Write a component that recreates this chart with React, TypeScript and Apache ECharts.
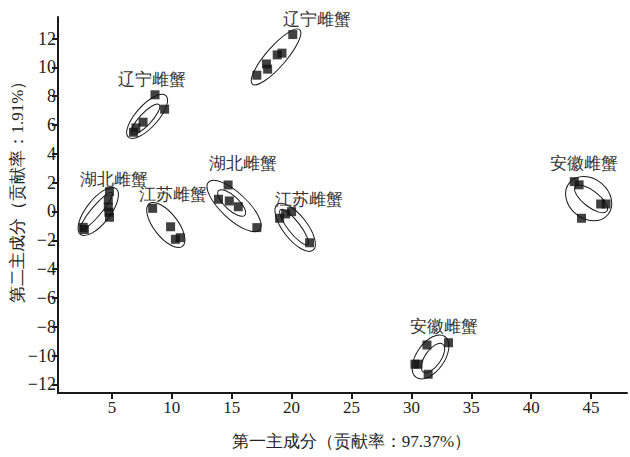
import React, { useEffect, useRef } from "react";
import * as echarts from "echarts";

// PCA scores (first principal component, second principal component)
const liaoningA: number[][] = [[17.1, 9.46], [17.9, 10.24], [18.0, 9.88], [18.8, 10.87], [19.2, 10.99], [20.1, 12.28]];
const liaoningB: number[][] = [[8.6, 8.1], [9.4, 7.1], [7.6, 6.2], [7.0, 5.8], [6.8, 5.5]];
const hubeiA: number[][] = [[2.6, -1.1], [2.7, -1.25], [4.8, 1.38], [4.7, 0.8], [4.7, 0.3], [4.75, -0.05], [4.8, -0.4]];
const jiangsuA: number[][] = [[8.4, 0.22], [9.9, -1.06], [10.3, -1.93], [10.7, -1.82]];
const hubeiB: number[][] = [[14.7, 1.84], [13.9, 0.85], [14.8, 0.73], [15.55, 0.33], [17.1, -1.12]];
const jiangsuB: number[][] = [[19.0, -0.47], [19.5, -0.17], [20.0, -0.01], [21.5, -2.17]];
const anhuiA: number[][] = [[43.6, 2.07], [44.0, 1.85], [45.8, 0.52], [46.25, 0.52], [44.2, -0.47]];
const anhuiB: number[][] = [[31.3, -9.27], [33.1, -9.11], [30.3, -10.6], [30.55, -10.6], [31.4, -11.3]];

// group labels: [x, y, text]
const groupLabels: [number, number, string][] = [
  [22.15, 13.3, "辽宁雌蟹"],
  [8.36, 9.13, "辽宁雌蟹"],
  [5.15, 2.19, "湖北雌蟹"],
  [10.07, 1.15, "江苏雌蟹"],
  [15.92, 3.35, "湖北雌蟹"],
  [21.48, 0.85, "江苏雌蟹"],
  [44.44, 3.35, "安徽雌蟹"],
  [32.69, -7.95, "安徽雌蟹"],
];

// confidence ellipses: [centerX, centerY, semiMajor(px), semiMinor(px), angle(deg)]
const ellipses: number[][] = [
  [18.7, 10.73, 36, 10, 49],
  [7.94, 6.6, 28, 11, 48],
  [7.8, 6.4, 20, 6, 47],
  [3.86, 0.0, 29, 12, 52],
  [3.7, 0.03, 24, 5, 50],
  [9.5, -0.94, 27, 12, -52],
  [15.2, 0.38, 35, 13, -43],
  [15.0, 0.59, 18, 7, -43],
  [20.3, -1.1, 29, 12, -52],
  [20.2, -1.08, 22, 6, -52],
  [44.8, 0.89, 25, 20, -40],
  [45.0, 0.87, 20, 8, -38],
  [31.6, -10.1, 25, 14, 55],
  [31.8, -10.17, 17, 8, 55],
];

const xTicks = [5, 10, 15, 20, 25, 30, 35, 40, 45];
const yTicks = [-12, -10, -8, -6, -4, -2, 0, 2, 4, 6, 8, 10, 12];

const SERIF = "Liberation Serif";

export default function App() {
  const ref = useRef<HTMLDivElement>(null);
  useEffect(() => {
    document.body.style.margin = "0";
    const chart = echarts.init(ref.current!, null, { renderer: "svg" });
    const allPoints = [...liaoningA, ...liaoningB, ...hubeiA, ...jiangsuA, ...hubeiB, ...jiangsuB, ...anhuiA, ...anhuiB];
    const minus = (v: number) => String(v).replace("-", "−");
    chart.setOption({
      animation: false,
      textStyle: { fontFamily: SERIF },
      grid: { left: 58, top: 17, right: 3, bottom: 64, containLabel: false, outerBoundsMode: "none" },
      xAxis: {
        type: "value",
        min: 0.5,
        max: 48,
        name: "第一主成分（贡献率：97.37%）",
        nameLocation: "middle",
        nameGap: 40,
        nameMoveOverlap: false,
        nameTextStyle: { fontFamily: SERIF, fontSize: 17, color: "#222", padding: [0, 0, 0, 18] },
        axisLine: { show: true, onZero: false, lineStyle: { color: "#1a1a1a", width: 2 } },
        axisTick: { show: true, customValues: xTicks, length: 6, lineStyle: { color: "#1a1a1a", width: 2 } },
        axisLabel: { customValues: xTicks, margin: 6, fontFamily: SERIF, fontSize: 17, color: "#222", formatter: minus },
        splitLine: { show: false },
      },
      yAxis: {
        type: "value",
        min: -12.6,
        max: 13.5,
        name: "第二主成分（贡献率：1.91%）",
        nameLocation: "middle",
        nameGap: 32,
        nameMoveOverlap: false,
        nameTextStyle: { fontFamily: SERIF, fontSize: 17, color: "#222", padding: [0, 0, 0, 34] },
        axisLine: { show: true, onZero: false, lineStyle: { color: "#1a1a1a", width: 2 } },
        axisTick: { show: true, customValues: yTicks, length: 6, lineStyle: { color: "#1a1a1a", width: 2 } },
        axisLabel: { customValues: yTicks, margin: 2, fontFamily: SERIF, fontSize: 18, color: "#222", formatter: minus },
        splitLine: { show: false },
      },
      series: [
        {
          type: "custom",
          data: ellipses,
          silent: true,
          renderItem: (_p: any, api: any) => {
            const c = api.coord([api.value(0), api.value(1)]);
            return {
              type: "ellipse",
              x: c[0],
              y: c[1],
              rotation: (api.value(4) * Math.PI) / 180,
              shape: { cx: 0, cy: 0, rx: api.value(2), ry: api.value(3) },
              style: { fill: "none", stroke: "#1a1a1a", lineWidth: 1 },
            };
          },
          z: 2,
        },
        {
          type: "scatter",
          data: allPoints,
          symbol: "rect",
          symbolSize: 9,
          itemStyle: { color: "#111" },
          z: 3,
        },
        {
          type: "custom",
          data: groupLabels.map((d) => [d[0], d[1]]),
          silent: true,
          renderItem: (params: any, api: any) => {
            const c = api.coord([api.value(0), api.value(1)]);
            return {
              type: "text",
              x: c[0],
              y: c[1],
              style: {
                text: groupLabels[params.dataIndex][2],
                textAlign: "center",
                textVerticalAlign: "middle",
                fontFamily: SERIF,
                fontSize: 17,
                fill: "#333",
              },
            };
          },
          z: 4,
        },
      ],
    });
    return () => chart.dispose();
  }, []);
  return <div ref={ref} style={{ width: 630, height: 457 }} />;
}
